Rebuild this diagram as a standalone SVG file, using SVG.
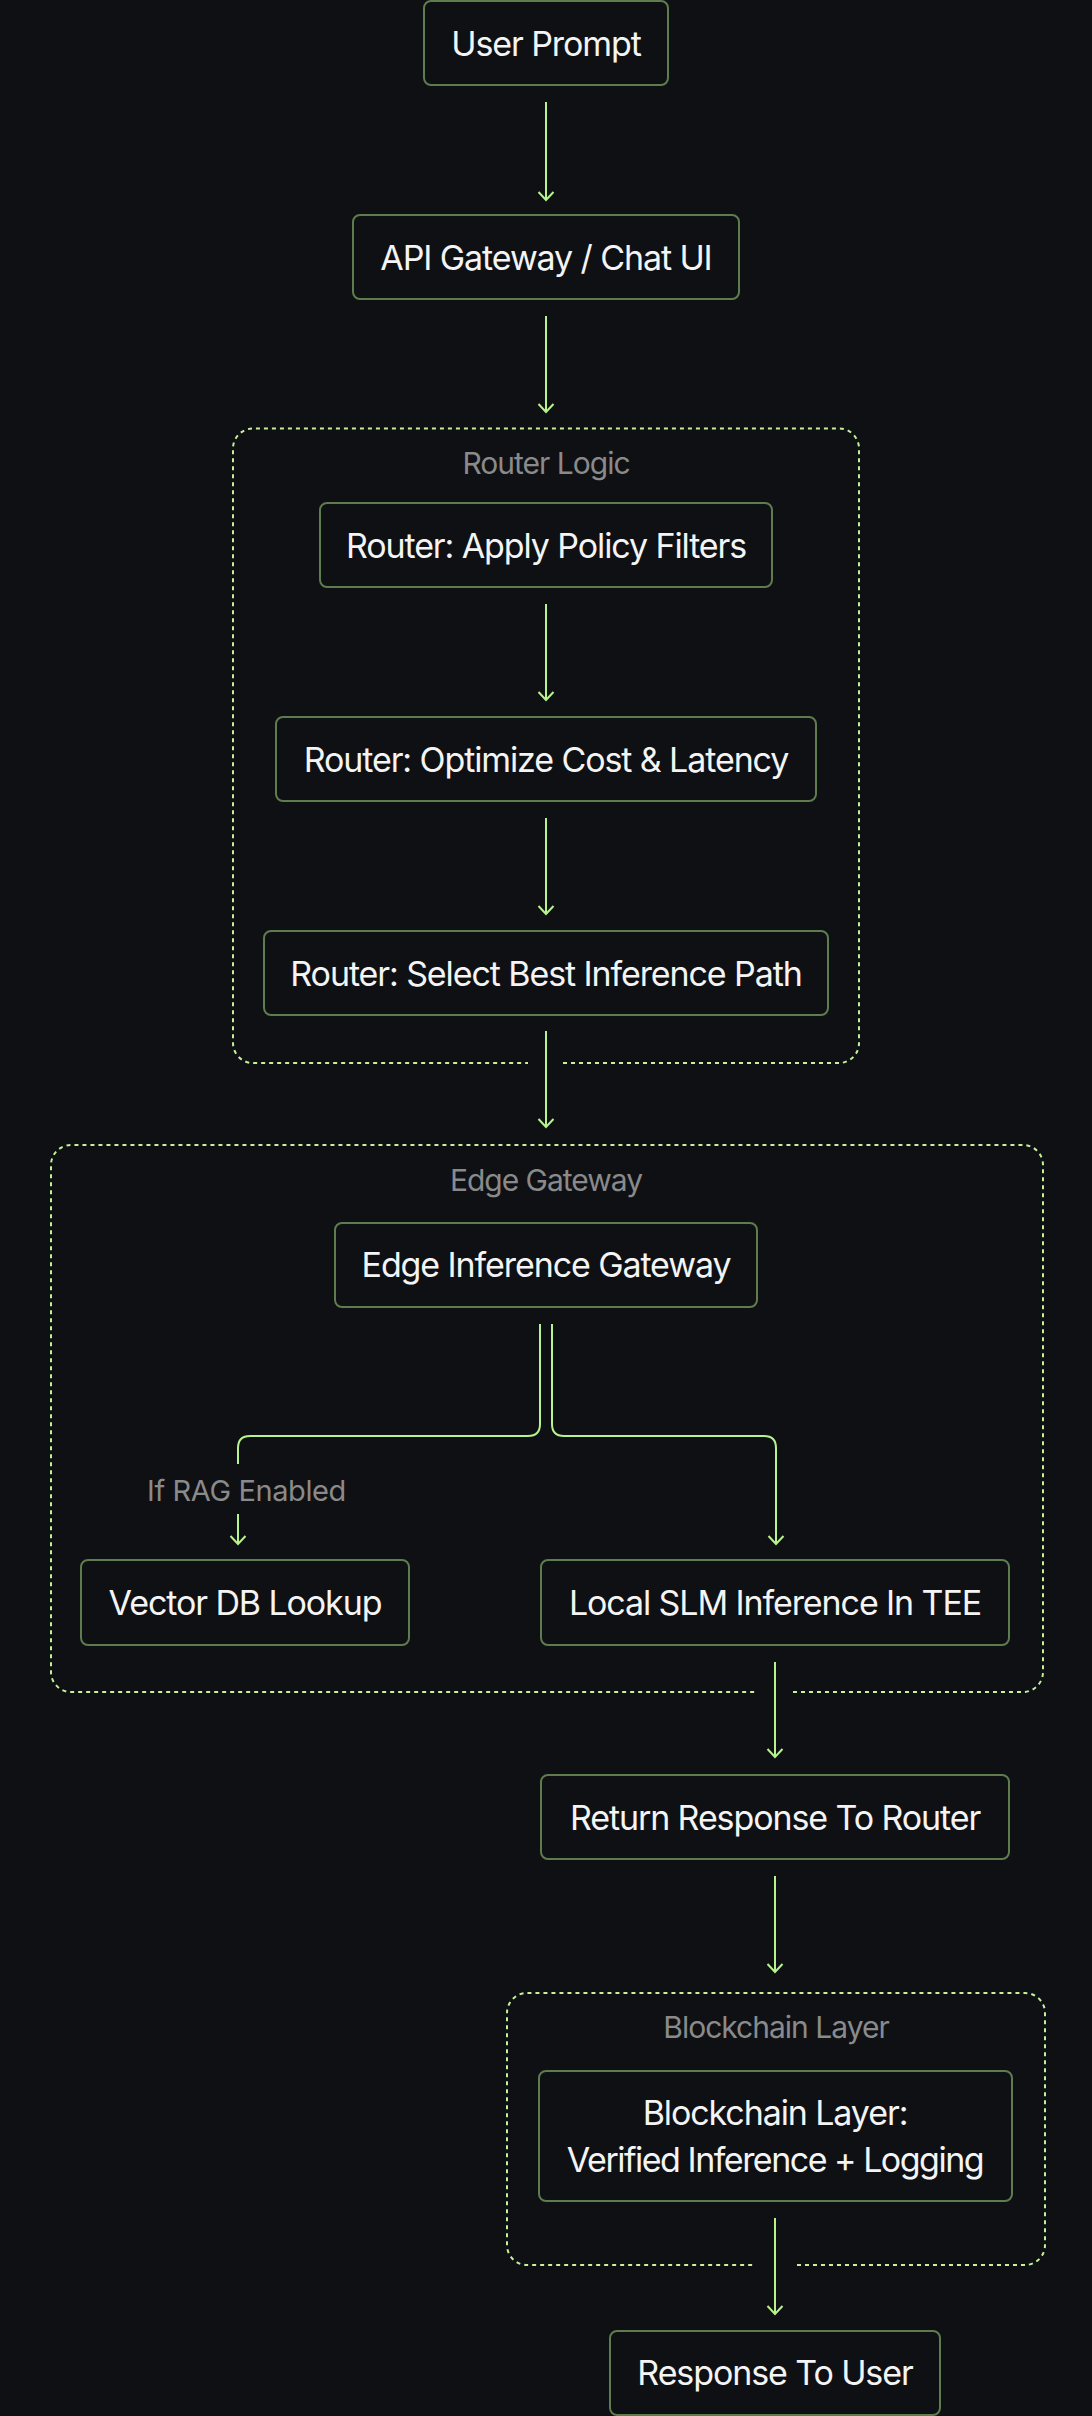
<svg xmlns="http://www.w3.org/2000/svg" width="1092" height="2416" viewBox="0 0 1092 2416">
<defs>
<style>
.node rect{fill:#0e1014;stroke:#5e7c4e;stroke-width:2}
.node text{font-family:Inter,"Liberation Sans",Arial,sans-serif;font-size:34px;letter-spacing:-1.1px;fill:#f4f4f4;text-anchor:middle}
.node text.tight{letter-spacing:-1.5px}
.grp path{fill:none;stroke:#c4f29a;stroke-width:2;stroke-dasharray:4 4}
.grp text{font-family:Inter,"Liberation Sans",Arial,sans-serif;font-size:30px;letter-spacing:-1px;fill:#8a8a8a;text-anchor:middle}
.edges path{fill:none;stroke:#b8f28c;stroke-width:2}
.elabel{font-family:Inter,"Liberation Sans",Arial,sans-serif;font-size:29px;letter-spacing:-0.4px;fill:#8a8a8a;text-anchor:middle}
</style>
<marker id="arr" viewBox="-10 -10 20 20" refX="0" refY="0" markerWidth="20" markerHeight="20" markerUnits="userSpaceOnUse" orient="auto">
<path d="M-8,-7.5 L0,0 L-8,7.5" fill="none" stroke="#b8f28c" stroke-width="2"/>
</marker>
</defs>
<rect width="1092" height="2416" fill="#0e1014"/>

<g id="group-router" class="grp">
<path d="M563,1063 H839 A20,20 0 0 0 859,1043 V448.5 A20,20 0 0 0 839,428.5 H253 A20,20 0 0 0 233,448.5 V1043 A20,20 0 0 0 253,1063 H528"/>
<text x="546" y="474">Router Logic</text>
</g>
<g id="group-edge" class="grp">
<path d="M793,1692 H1023 A20,20 0 0 0 1043,1672 V1165 A20,20 0 0 0 1023,1145 H71 A20,20 0 0 0 51,1165 V1672 A20,20 0 0 0 71,1692 H758"/>
<text x="546" y="1191">Edge Gateway</text>
</g>
<g id="group-blockchain" class="grp">
<path d="M797,2265 H1025 A20,20 0 0 0 1045,2245 V2013 A20,20 0 0 0 1025,1993 H527 A20,20 0 0 0 507,2013 V2245 A20,20 0 0 0 527,2265 H755"/>
<text x="776" y="2037.5">Blockchain Layer</text>
</g>

<g id="edges" class="edges">
<path d="M546,102 V200" marker-end="url(#arr)"/>
<path d="M546,316 V412" marker-end="url(#arr)"/>
<path d="M546,604 V700" marker-end="url(#arr)"/>
<path d="M546,818 V914" marker-end="url(#arr)"/>
<path d="M546,1031 V1127" marker-end="url(#arr)"/>
<path d="M540,1324 V1424 Q540,1436 528,1436 H250 Q238,1436 238,1448 V1464 M238,1514 V1544" marker-end="url(#arr)"/>
<path d="M552,1324 V1424 Q552,1436 564,1436 H764 Q776,1436 776,1448 V1544" marker-end="url(#arr)"/>
<path d="M775,1662 V1757" marker-end="url(#arr)"/>
<path d="M775,1876 V1972" marker-end="url(#arr)"/>
<path d="M775,2218 V2314" marker-end="url(#arr)"/>
<text class="elabel" x="246.5" y="1501">If RAG Enabled</text>
</g>

<g id="n-user-prompt" class="node"><rect x="424" y="1" width="244" height="84" rx="7"/><text x="546" y="56">User Prompt</text></g>
<g id="n-api-gateway" class="node"><rect x="353" y="215" width="386" height="84" rx="7"/><text x="546" y="270">API Gateway / Chat UI</text></g>
<g id="n-router-policy" class="node"><rect x="320" y="503" width="452" height="84" rx="7"/><text x="546" y="558">Router: Apply Policy Filters</text></g>
<g id="n-router-optimize" class="node"><rect x="276" y="717" width="540" height="84" rx="7"/><text x="546" y="772">Router: Optimize Cost &amp; Latency</text></g>
<g id="n-router-select" class="node"><rect x="264" y="931" width="564" height="84" rx="7"/><text x="546" y="986">Router: Select Best Inference Path</text></g>
<g id="n-edge-gateway" class="node"><rect x="335" y="1223" width="422" height="84" rx="7"/><text x="546" y="1277">Edge Inference Gateway</text></g>
<g id="n-vector-db" class="node"><rect x="81" y="1560" width="328" height="85" rx="7"/><text x="245" y="1615">Vector DB Lookup</text></g>
<g id="n-local-slm" class="node"><rect x="541" y="1560" width="468" height="85" rx="7"/><text x="775" y="1615">Local SLM Inference In TEE</text></g>
<g id="n-return-response" class="node"><rect x="541" y="1775" width="468" height="84" rx="7"/><text x="775" y="1830">Return Response To Router</text></g>
<g id="n-blockchain" class="node"><rect x="539" y="2071" width="473" height="130" rx="7"/><text x="775" y="2125">Blockchain Layer:</text><text class="tight" x="775" y="2172">Verified Inference + Logging</text></g>
<g id="n-response-user" class="node"><rect x="610" y="2331" width="330" height="84" rx="7"/><text x="775" y="2385">Response To User</text></g>
</svg>
